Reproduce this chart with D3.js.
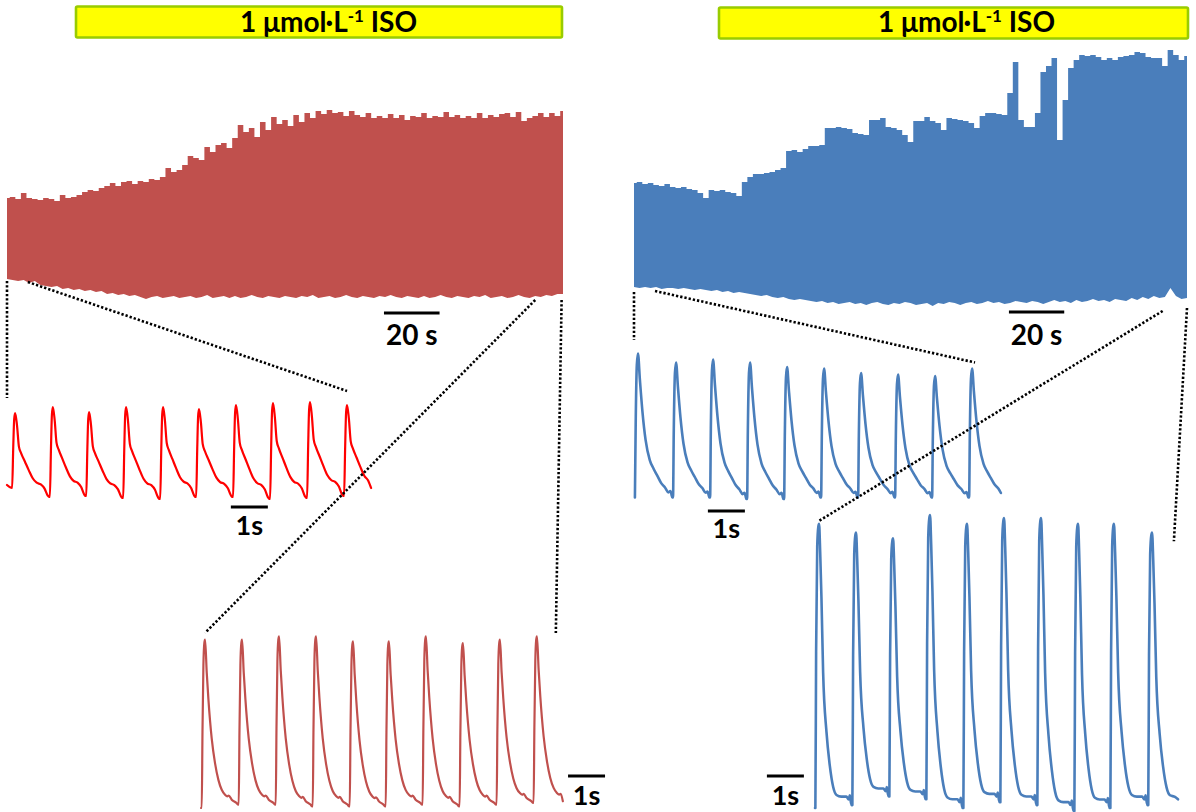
<!DOCTYPE html>
<html>
<head>
<meta charset="utf-8">
<script src="https://cdn.jsdelivr.net/npm/d3@7"></script>
<style>
  html, body { margin: 0; padding: 0; background: #fff; }
  svg { display: block; }
  text { font-family: "Lato", "Open Sans", sans-serif; font-weight: 700; fill: #000; }
</style>
</head>
<body>
<svg id="fig" width="1196" height="812"></svg>
<script>
// ---------------- data ----------------
// Treatment label shown above each long recording
const labelMain = "1 μmol·L";
const labelSup = "-1";
const labelTail = " ISO";

// Long recordings (200 s, 1 Hz pacing): upper (systolic) and lower (diastolic)
// envelopes sampled every 2 s, in normalised fluorescence units.
const recordSpan = 200;
const leftUpper = [
  1.02,1.03,1.01,1.07,1.02,1.01,1.00,1.02,1.01,0.99,
  1.05,1.02,1.03,1.05,1.08,1.10,1.09,1.12,1.14,1.17,
  1.14,1.18,1.19,1.16,1.19,1.18,1.21,1.20,1.23,1.32,
  1.28,1.30,1.35,1.44,1.42,1.40,1.53,1.48,1.55,1.57,
  1.52,1.62,1.75,1.68,1.72,1.63,1.78,1.70,1.83,1.76,
  1.80,1.74,1.85,1.78,1.87,1.82,1.89,1.86,1.90,1.87,
  1.88,1.84,1.89,1.85,1.83,1.87,1.82,1.84,1.82,1.86,
  1.82,1.85,1.80,1.84,1.83,1.87,1.82,1.84,1.83,1.88,
  1.83,1.85,1.82,1.84,1.82,1.87,1.82,1.85,1.83,1.86,
  1.87,1.83,1.88,1.79,1.82,1.84,1.87,1.83,1.87,1.84,
  1.89
];
const leftLower = [
  0.21,0.20,0.19,0.20,0.17,0.19,0.15,0.14,0.13,0.14,
  0.11,0.12,0.10,0.11,0.09,0.10,0.08,0.09,0.06,0.07,
  0.05,0.06,0.04,0.05,0.03,0.01,0.03,0.04,0.02,0.03,
  0.04,0.02,0.03,0.04,0.02,0.03,0.05,0.02,0.03,0.04,
  0.02,0.04,0.02,0.03,0.05,0.03,0.02,0.04,0.03,0.02,
  0.04,0.03,0.02,0.04,0.03,0.05,0.02,0.03,0.04,0.02,
  0.03,0.05,0.03,0.02,0.04,0.03,0.02,0.04,0.03,0.05,
  0.03,0.02,0.04,0.03,0.02,0.04,0.02,0.03,0.05,0.03,
  0.02,0.04,0.03,0.02,0.04,0.03,0.05,0.02,0.03,0.04,
  0.02,0.03,0.05,0.03,0.02,0.04,0.03,0.05,0.04,0.06,
  0.06
];
const rightUpper = [
  1.22,1.23,1.21,1.22,1.20,1.19,1.21,1.18,1.17,1.18,
  1.16,1.15,1.12,1.07,1.15,1.14,1.15,1.13,1.12,1.09,
  1.23,1.28,1.31,1.31,1.32,1.33,1.35,1.37,1.54,1.55,
  1.53,1.56,1.59,1.59,1.60,1.77,1.77,1.78,1.77,1.76,
  1.72,1.71,1.70,1.85,1.85,1.87,1.78,1.77,1.75,1.70,
  1.63,1.84,1.84,1.88,1.84,1.82,1.75,1.87,1.86,1.85,
  1.84,1.82,1.77,1.89,1.92,1.92,1.91,1.90,2.12,2.43,
  1.85,1.78,1.78,1.92,2.33,2.39,2.47,1.65,2.05,2.37,
  2.45,2.50,2.49,2.50,2.48,2.45,2.47,2.45,2.48,2.49,
  2.50,2.53,2.52,2.48,2.47,2.47,2.39,2.55,2.50,2.45,
  2.49
];
const rightLower = [
  0.18,0.17,0.18,0.17,0.18,0.16,0.17,0.17,0.16,0.17,
  0.16,0.15,0.16,0.15,0.14,0.15,0.13,0.14,0.12,0.13,
  0.12,0.11,0.10,0.09,0.10,0.08,0.07,0.08,0.06,0.05,
  0.06,0.05,0.04,0.03,0.04,0.02,0.03,0.01,0.02,0.03,
  0.01,0.02,0.00,0.02,0.03,0.01,0.00,0.02,0.01,0.03,
  0.02,0.00,0.01,0.02,-0.01,0.02,0.01,0.03,0.02,0.00,
  0.02,0.03,0.01,0.02,0.04,0.02,0.03,0.01,0.02,0.04,
  0.03,0.02,0.04,0.03,0.01,0.03,0.05,0.03,0.04,0.02,
  0.05,0.03,0.04,0.06,0.04,0.05,0.03,0.06,0.05,0.04,
  0.07,0.05,0.08,0.06,0.09,0.07,0.08,0.17,0.09,0.06,
  0.07
];

// Expanded 10 s windows: peak times (s), peak amplitudes, and the diastolic
// level preceding each peak; plus the first and last sample of each window.
const earlyRedPeakT = [0.22,1.24,2.22,3.22,4.22,5.19,6.19,7.19,8.19,9.19];
const earlyRedPeakV = [0.87,0.93,0.88,0.93,0.93,0.91,0.95,0.97,0.98,0.95];
const earlyRedMinV  = [0.12,0.03,0.04,0.02,0.01,0.03,0.03,0.01,0.02,0.04];
const earlyRedEnds  = [[0,0.15],[9.84,0.12]];

const lateRedPeakT = [0.11,1.11,2.11,3.11,4.11,5.08,6.08,7.08,8.08,9.08];
const lateRedPeakV = [0.99,0.99,1.01,1.01,0.98,0.98,1.01,0.97,0.99,1.01];
const lateRedMinV  = [0.00,0.02,0.02,0.01,0.01,0.01,0.02,0.01,0.02,0.03];
const lateRedEnds  = [[0,0.0],[9.78,0.04]];

const earlyBluePeakT = [0.08,1.11,2.11,3.11,4.11,5.11,6.11,7.11,8.11,9.11];
const earlyBluePeakV = [0.97,0.91,0.93,0.91,0.88,0.87,0.84,0.83,0.82,0.87];
const earlyBlueMinV  = [0.01,0.01,0.01,0.00,0.00,0.01,0.01,0.01,0.01,0.01];
const earlyBlueEnds  = [[0,0.01],[9.89,0.04]];

const lateBluePeakT = [0.11,1.11,2.11,3.11,4.11,5.11,6.11,7.11,8.08,9.11];
const lateBluePeakV = [0.98,0.95,0.93,1.01,0.98,1.00,1.00,0.98,0.98,0.95];
const lateBlueMinV  = [0.00,0.01,0.04,0.03,0.00,0.02,0.01,-0.01,0.00,0.01];
const lateBlueEnds  = [[0,0.0],[9.81,0.03]];

// Transient shapes: [phase of cycle, fraction of amplitude].
// Decay from the peak, and upstroke leading into the peak.
const earlyRedDecay = [[0,1],[0.05,0.85],[0.10,0.60],[0.16,0.52],[0.26,0.42],[0.36,0.32],[0.47,0.22],[0.57,0.17],[0.68,0.15],[0.78,0.10],[0.86,0.02],[0.90,0]];
const earlyRedRise  = [[-0.08,0],[-0.05,0.55],[-0.025,0.92],[0,1]];
const lateRedDecay  = [[0,1],[0.045,0.80],[0.09,0.64],[0.18,0.40],[0.27,0.25],[0.36,0.15],[0.45,0.09],[0.54,0.06],[0.60,0.05],[0.64,0.055],[0.72,0.03],[0.85,0.01],[0.89,0]];
const lateRedRise   = [[-0.09,0],[-0.07,0.45],[-0.045,0.85],[-0.02,0.98],[0,1]];
const earlyBlueDecay = [[0,1],[0.05,0.82],[0.12,0.59],[0.20,0.40],[0.31,0.26],[0.41,0.20],[0.51,0.15],[0.61,0.10],[0.71,0.07],[0.80,0.035],[0.85,0.045],[0.88,0.02],[0.90,0]];
const earlyBlueRise  = [[-0.08,0],[-0.06,0.5],[-0.03,0.92],[0,1]];
const lateBlueDecay  = [[0,1],[0.03,0.90],[0.064,0.74],[0.11,0.47],[0.20,0.26],[0.29,0.14],[0.38,0.065],[0.47,0.036],[0.60,0.03],[0.74,0.03],[0.80,0.02],[0.83,0.035],[0.86,0.01],[0.88,0]];
const lateBlueRise   = [[-0.10,0],[-0.08,0.55],[-0.05,0.92],[-0.02,0.99],[0,1]];

// Scale-bar lengths (s)
const longBar = 20;
const shortBar = 1;

// ---------------- drawing ----------------
const svg = d3.select("#fig");
const C = {
  red: "#c0504d", brightRed: "#ff0000", blue: "#4a7ebb",
  boxFill: "#ffff00", boxEdge: "#99cc00"
};

// scales: long recordings
const xL = d3.scaleLinear([0, recordSpan], [7, 563]);
const yL = d3.scaleLinear([0, 2], [300, 100]);
const xR = d3.scaleLinear([0, recordSpan], [634, 1187]);
const yR = d3.scaleLinear([0, 2.6], [305, 45]);
// scales: expanded windows
const xA = d3.scaleLinear([0, 10], [7, 377]);
const yA = d3.scaleLinear([0, 1], [500, 400]);
const xB = d3.scaleLinear([0, 10], [201, 571]);
const yB = d3.scaleLinear([0, 1], [808, 638]);
const xC = d3.scaleLinear([0, 10], [635, 1005]);
const yC = d3.scaleLinear([0, 1], [499, 349]);
const xD = d3.scaleLinear([0, 10], [815, 1185]);
const yD = d3.scaleLinear([0, 1], [808, 518]);

// treatment boxes
function labelBox(x0, x1, y0, y1, tx) {
  svg.append("rect")
    .attr("x", x0).attr("y", y0).attr("width", x1 - x0).attr("height", y1 - y0)
    .attr("rx", 1.5)
    .attr("fill", C.boxFill).attr("stroke", C.boxEdge).attr("stroke-width", 2.6);
  const t = svg.append("text").attr("x", tx).attr("y", 32).attr("font-size", 28);
  t.append("tspan").text(labelMain);
  t.append("tspan").attr("dy", -10).attr("font-size", 17).text(labelSup);
  t.append("tspan").attr("dy", 10).attr("font-size", 28).text(labelTail);
}
labelBox(76, 562, 6.5, 37.5, 240);
labelBox(719, 1188, 7.5, 38.5, 878);

// long recordings: systolic edge drawn stepwise, diastolic edge point to point;
// the two halves meet on a common interior level so the band is seamless.
function envelope(upper, lower, x, y, color) {
  const step = recordSpan / (upper.length - 1);
  const rows = upper.map((u, i) => ({ t: i * step, hi: u, lo: lower[i] }));
  const core = 0.6;
  const top = d3.area()
    .x(d => x(d.t)).y0(y(core - 0.05)).y1(d => y(d.hi))
    .curve(d3.curveStep);
  const bottom = d3.area()
    .x(d => x(d.t)).y0(d => y(d.lo)).y1(y(core))
    .curve(d3.curveLinear);
  svg.append("path").datum(rows).attr("d", bottom).attr("fill", color);
  svg.append("path").datum(rows).attr("d", top).attr("fill", color);
}
envelope(leftUpper, leftLower, xL, yL, C.red);
envelope(rightUpper, rightLower, xR, yR, C.blue);

// expanded windows built beat by beat from the shape tables
function beatSeries(peakT, peakV, minV, ends, decay, rise) {
  const n = peakT.length;
  const period = i => (i < n - 1 ? peakT[i + 1] - peakT[i] : peakT[i] - peakT[i - 1]);
  const pts = [];
  const firstRise = peakT[0] + rise[0][0] * period(0);
  if (ends[0][0] < firstRise - 0.005) pts.push(ends[0]);
  for (let i = 0; i < n; i++) {
    const P = period(i);
    const riseP = i > 0 ? period(i - 1) : P;
    const lo = minV[i];
    rise.forEach(([ph, lv]) => pts.push([peakT[i] + ph * riseP, lo + lv * (peakV[i] - lo)]));
    const nextLo = i < n - 1 ? minV[i + 1] : minV[i];
    const nextRise = i < n - 1 ? peakT[i + 1] + rise[0][0] * P : Infinity;
    decay.forEach(([ph, lv], k) => {
      if (k === 0) return;
      const t = peakT[i] + ph * P;
      if (t >= nextRise - 0.005) return;
      if (i === n - 1 && t >= ends[1][0] - 0.01) return;
      pts.push([t, nextLo + lv * (peakV[i] - nextLo)]);
    });
  }
  pts.push(ends[1]);
  return pts;
}
function drawBeats(pts, x, y, color, width) {
  const line = d3.line().x(d => x(d[0])).y(d => y(d[1])).curve(d3.curveMonotoneX);
  svg.append("path").datum(pts).attr("d", line)
    .attr("fill", "none").attr("stroke", color).attr("stroke-width", width)
    .attr("stroke-linejoin", "round").attr("stroke-linecap", "round");
}
drawBeats(beatSeries(earlyRedPeakT, earlyRedPeakV, earlyRedMinV, earlyRedEnds, earlyRedDecay, earlyRedRise), xA, yA, C.brightRed, 2.2);
drawBeats(beatSeries(lateRedPeakT, lateRedPeakV, lateRedMinV, lateRedEnds, lateRedDecay, lateRedRise), xB, yB, C.red, 2.2);
drawBeats(beatSeries(earlyBluePeakT, earlyBluePeakV, earlyBlueMinV, earlyBlueEnds, earlyBlueDecay, earlyBlueRise), xC, yC, C.blue, 2.6);
drawBeats(beatSeries(lateBluePeakT, lateBluePeakV, lateBlueMinV, lateBlueEnds, lateBlueDecay, lateBlueRise), xD, yD, C.blue, 2.6);

// dotted guides from each long recording to its expanded windows
function guide(p0, p1) {
  svg.append("line")
    .attr("x1", p0[0]).attr("y1", p0[1]).attr("x2", p1[0]).attr("y2", p1[1])
    .attr("stroke", "#000").attr("stroke-width", 2.6).attr("stroke-dasharray", "2.3 2");
}
guide([xL(0), yL(0.19)], [xL(0), yA(1.02)]);
guide([xL(7.5), yL(0.18)], [xA(9.19), yA(1.09)]);
guide([xL(190), yL(0.0)], [xB(0.11), yB(1.03)]);
guide([xL(199.5), yL(0.0)], [xB(9.59), yB(1.03)]);
guide([xR(0), yR(0.13)], [xR(0), yC(1.06)]);
guide([xR(7.6), yR(0.14)], [xC(9.19), yC(0.91)]);
guide([xR(191.2), yR(-0.06)], [xD(0.11), yD(0.99)]);
guide([xR(200), yR(-0.03)], [xD(9.7), yD(0.92)]);

// scale bars
function scaleBar(x, t0, len, yBar, label, yText, size) {
  svg.append("line")
    .attr("x1", x(t0)).attr("x2", x(t0 + len)).attr("y1", yBar).attr("y2", yBar)
    .attr("stroke", "#000").attr("stroke-width", 3.2);
  svg.append("text")
    .attr("x", (x(t0) + x(t0 + len)) / 2).attr("y", yText)
    .attr("text-anchor", "middle").attr("font-size", size).text(label);
}
scaleBar(xL, 135.6, longBar, 313, "20 s", 345, 28);
scaleBar(xR, 135.6, longBar, 312, "20 s", 345, 28);
scaleBar(xA, 6.05, shortBar, 507, "1s", 535, 27);
scaleBar(xB, 9.92, shortBar, 776, "1s", 805, 27);
scaleBar(xC, 1.97, shortBar, 511, "1s", 538, 27);
scaleBar(xD, -1.3, shortBar, 776, "1s", 805, 27);
</script>
</body>
</html>
